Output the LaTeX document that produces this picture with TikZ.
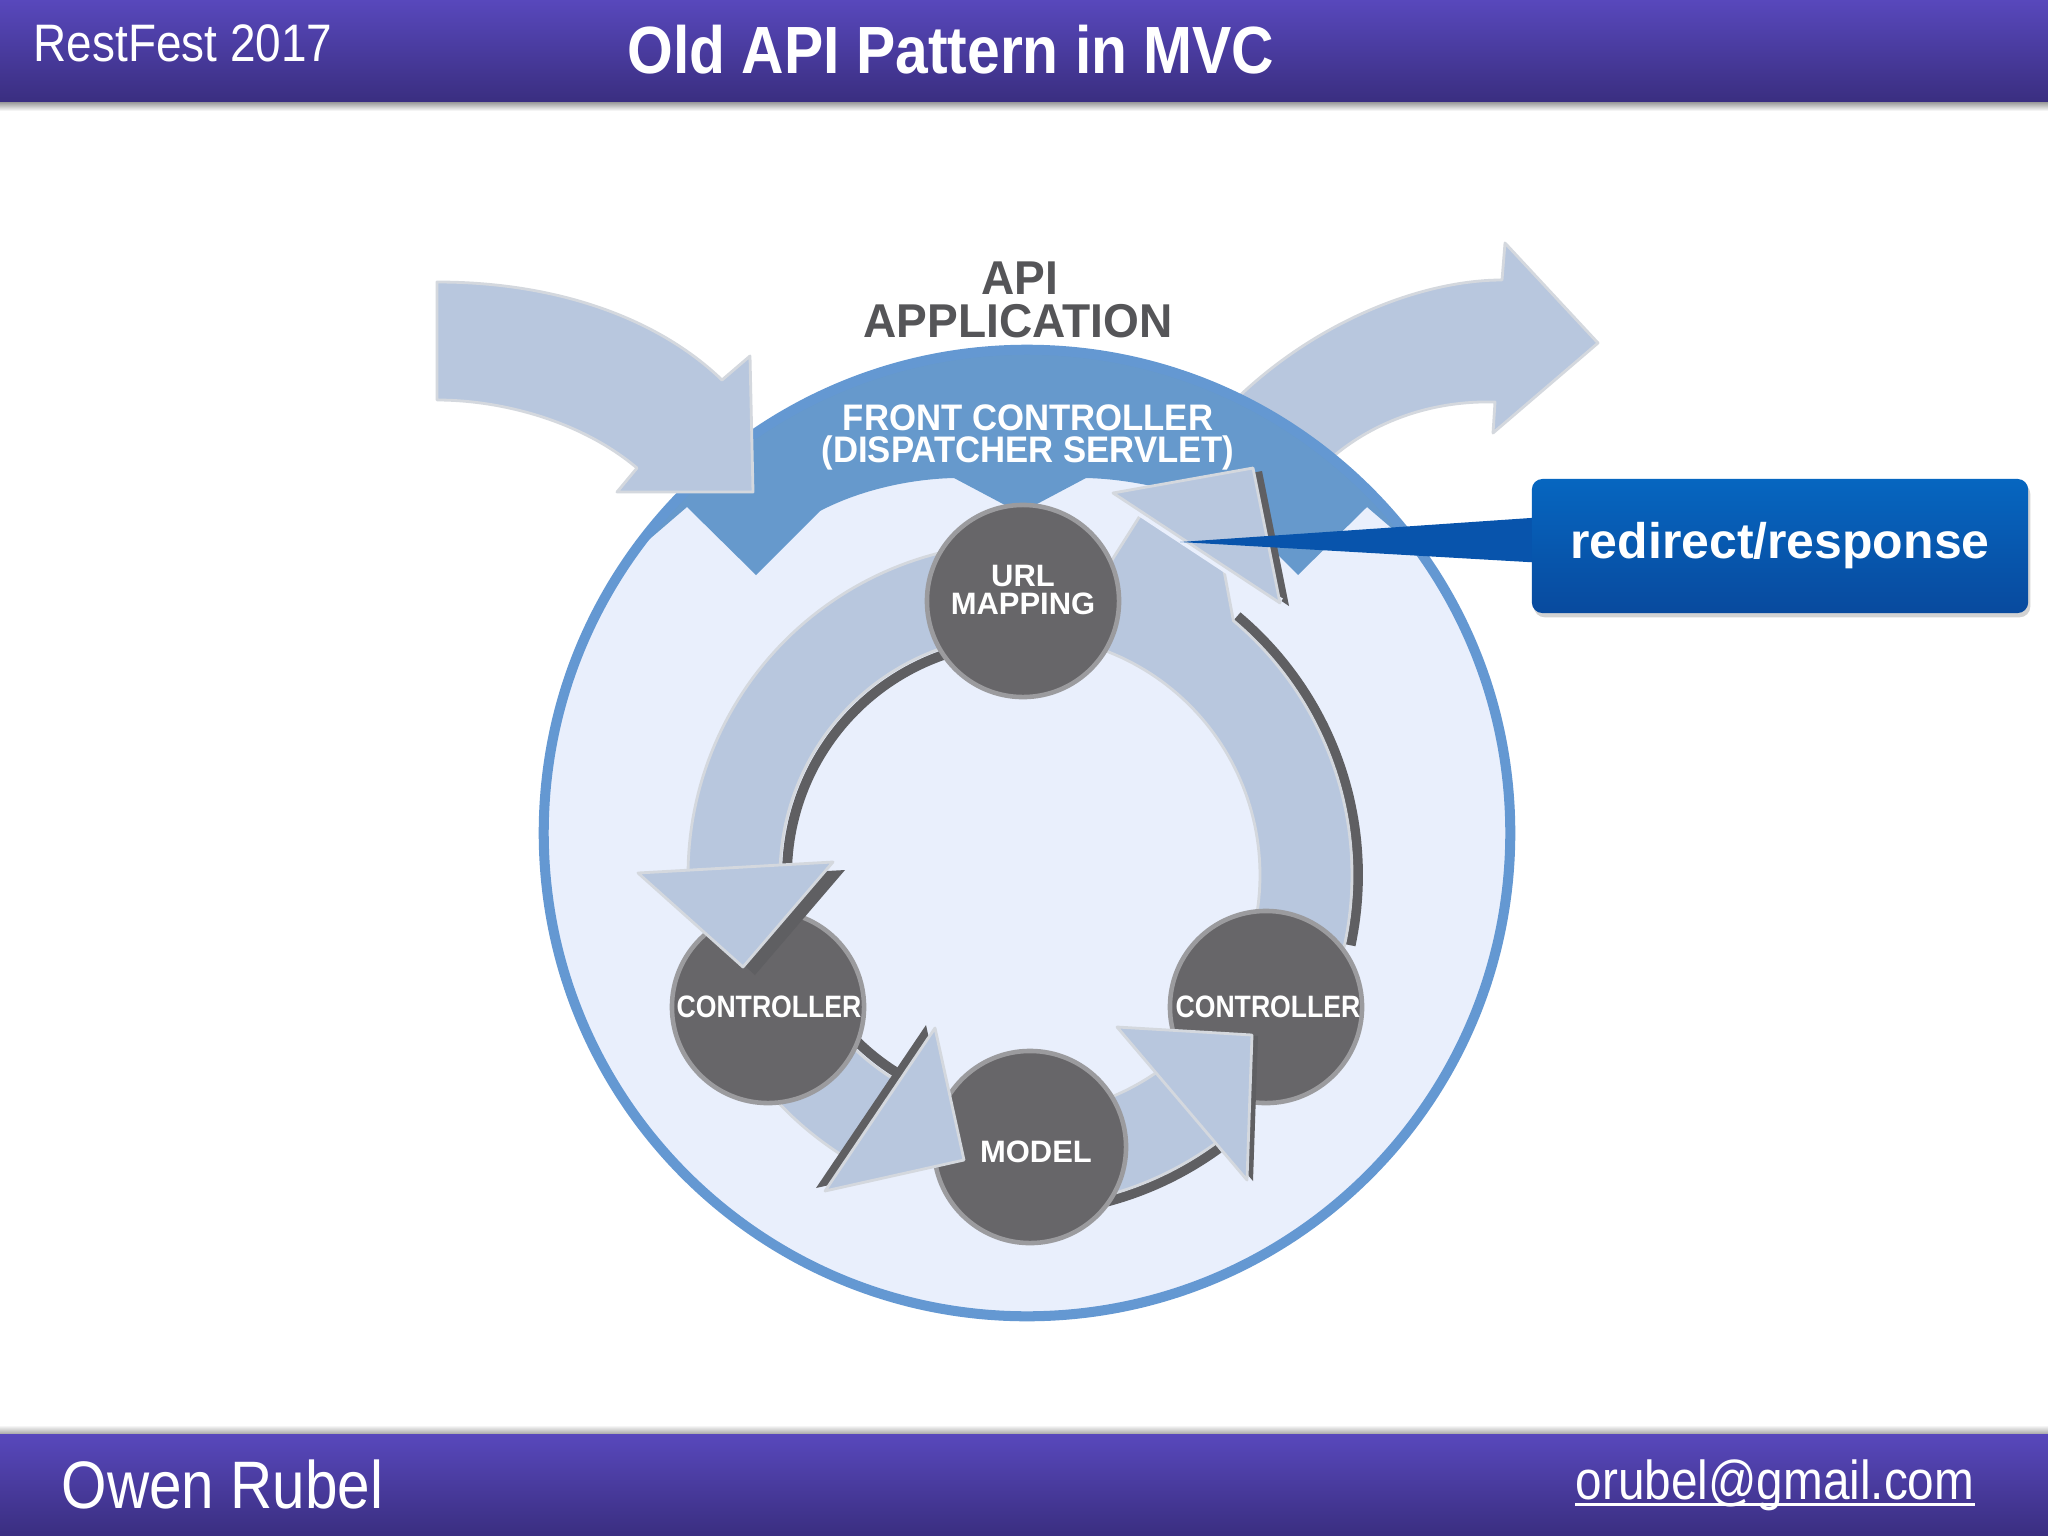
\documentclass[tikz,border=0pt]{standalone}
\usepackage{fontspec}
\setmainfont{Liberation Sans}
\newfontfamily\hdrfont[FakeStretch=0.87]{Liberation Sans}
\newfontfamily\ttlfont[FakeStretch=0.88]{Liberation Sans}
\newfontfamily\apifont[FakeStretch=0.97]{Liberation Sans}
\newfontfamily\fcfont[FakeStretch=0.94]{Liberation Sans}
\newfontfamily\ctlfont[FakeStretch=0.86]{Liberation Sans}
\usetikzlibrary{calc,shadows}
\definecolor{hdrtop}{RGB}{88,72,188}
\definecolor{hdrbot}{RGB}{58,46,128}
\definecolor{ringfill}{RGB}{233,239,252}
\definecolor{ringline}{RGB}{100,152,210}
\definecolor{bandblue}{RGB}{102,153,204}
\definecolor{lightarr}{RGB}{184,199,222}
\definecolor{arredge}{RGB}{212,216,222}
\definecolor{darkshadow}{RGB}{95,95,98}
\definecolor{nodegrey}{RGB}{103,102,105}
\definecolor{nodeedge}{RGB}{155,155,158}
\definecolor{apigrey}{RGB}{85,85,88}
\definecolor{calltop}{RGB}{6,102,192}
\definecolor{callbot}{RGB}{8,74,158}
\definecolor{callwedge}{RGB}{8,84,172}
\begin{document}
\begin{tikzpicture}[x=0.01cm, y=-0.01cm,
  bigarrow/.style={fill=lightarr, draw=arredge, line width=0.8pt, line join=round},
  cycarrow/.style={fill=lightarr, draw=arredge, line width=0.8pt, line join=round},
  darkline/.style={draw=darkshadow, line width=2.8pt},
  darkfill/.style={fill=darkshadow},
  cyc/.style={circle, fill=nodegrey, draw=nodeedge, line width=1.3pt, minimum size=1.92cm, inner sep=0pt},
  cyctext/.style={text=white, inner sep=0pt, font=\bfseries\fontsize{8.8}{9}\selectfont},
  ctltext/.style={text=white, inner sep=0pt, font=\ctlfont\bfseries\fontsize{8.8}{9}\selectfont},
  fctext/.style={text=white, inner sep=0pt, font=\fcfont\bfseries\fontsize{10.5}{12}\selectfont},
  apitext/.style={text=apigrey, inner sep=0pt, font=\apifont\bfseries\fontsize{13.5}{15}\selectfont},
  bartext/.style={text=white, inner sep=0pt},
  callbox/.style={rectangle, rounded corners=3pt, minimum width=4.96cm, minimum height=1.34cm, top color=calltop, bottom color=callbot, text=white, font=\bfseries\fontsize{14.2}{16}\selectfont, drop shadow={shadow xshift=0.6pt, shadow yshift=-1.2pt, opacity=0.35}},
]
\useasboundingbox (0,0) rectangle (2048,1536);
\fill[white] (0,0) rectangle (2048,1536);

% header and footer bars
\shade[top color=hdrtop, bottom color=hdrbot] (0,0) rectangle (2048,102);
\shade[top color=black!40, bottom color=white] (0,102) rectangle (2048,111);
\shade[top color=white, bottom color=black!35] (0,1425) rectangle (2048,1434);
\shade[top color=hdrtop, bottom color=hdrbot] (0,1434) rectangle (2048,1536);

\node[bartext, anchor=base west, font=\hdrfont\fontsize{15}{18}\selectfont] (restfest) at (33,61) {RestFest 2017};
\node[bartext, anchor=base, font=\ttlfont\bfseries\fontsize{19}{22}\selectfont] (title) at (951,73) {Old API Pattern in MVC};
\node[bartext, anchor=base west, font=\hdrfont\fontsize{19.1}{22}\selectfont] (owen) at (61,1508) {Owen Rubel};
\node[bartext, anchor=base east, font=\hdrfont\fontsize{15.6}{18}\selectfont] (mail) at (1975,1499) {orubel@gmail.com};
\draw[white, line width=0.7pt] ([yshift=-1.6pt]mail.base west) -- ([yshift=-1.6pt]mail.base east);

% outgoing arrow (behind the circle)
\path[bigarrow] (1195,445) .. controls (1280,335) and (1410,280) .. (1502,280) -- (1505,243) -- (1598,343) -- (1493,433) -- (1495,402) .. controls (1420,400) and (1350,430) .. (1305,485) -- cycle;

% application circle with front controller band
\fill[ringfill] (1027,833) circle[radius=4.83cm];
\begin{scope}
  \clip (1027,833) circle[radius=4.83cm];
  \fill[bandblue] (560,616) -- (687,507) -- (756,575) -- (820,511) .. controls (860,490) and (910,479) .. (954,478) -- (1020,513) -- (1086,478) .. controls (1130,479) and (1180,490) .. (1234,511) -- (1298,575) -- (1367,507) -- (1494,616) -- (1494,300) -- (560,300) -- cycle;
\end{scope}
\draw[ringline, line width=2.85pt] (1027,833) circle[radius=4.83cm];

% incoming arrow
\path[bigarrow] (437,282) .. controls (560,282) and (660,320) .. (722,380) -- (750,356) -- (753,492) -- (617,492) -- (637,468) .. controls (580,420) and (500,400) .. (437,400) -- cycle;

\node[apitext, anchor=base] (api1) at (1020,294) {API};
\node[apitext, anchor=base] (api2) at (1018,337) {APPLICATION};
\node[fctext, anchor=base] (fc1) at (1028,430) {FRONT CONTROLLER};
\node[fctext, anchor=base] (fc2) at (1028,462) {(DISPATCHER SERVLET)};

% cycle shadows
\draw[darkline] plot[domain=252:178,samples=50] ({1020+233*cos(\x)},{875+233*sin(\x)});
\draw[darkline] plot[domain=152:112,samples=40] ({1020+233*cos(\x)},{875+233*sin(\x)});
\draw[darkline] plot[domain=90:54,samples=40] ({1020+338*cos(\x)},{875+338*sin(\x)});
\draw[darkline] plot[domain=12:-50,samples=50] ({1020+338*cos(\x)},{875+338*sin(\x)});

% cycle shafts
\path[cycarrow] plot[domain=265:178,samples=60] ({1020+332*cos(\x)},{875+332*sin(\x)}) -- plot[domain=178:265,samples=60] ({1020+240*cos(\x)},{875+240*sin(\x)}) -- cycle;
\path[cycarrow] plot[domain=158:118,samples=40] ({1020+332*cos(\x)},{875+332*sin(\x)}) -- plot[domain=118:158,samples=40] ({1020+240*cos(\x)},{875+240*sin(\x)}) -- cycle;
\path[cycarrow] plot[domain=92:50,samples=40] ({1020+332*cos(\x)},{875+332*sin(\x)}) -- plot[domain=50:92,samples=40] ({1020+240*cos(\x)},{875+240*sin(\x)}) -- cycle;
\path[cycarrow] plot[domain=25:-50,samples=60] ({1020+332*cos(\x)},{875+332*sin(\x)}) -- (1222,560) -- (1150,500) -- (1112,560) -- plot[domain=-70:25,samples=60] ({1020+240*cos(\x)},{875+240*sin(\x)}) -- cycle;

% cycle nodes
\node[cyc] (url) at (1023,601) {};
\node[cyc] (lctl) at (768,1007) {};
\node[cyc] (model) at (1030,1147) {};
\node[cyc] (rctl) at (1266,1007) {};

% arrow heads
\path[darkfill, shift={(12,8)}] (638,873) -- (833,862) -- (743,967) -- cycle;
\path[cycarrow] (638,873) -- (833,862) -- (743,967) -- cycle;
\path[darkfill, shift={(-9,-3)}] (935,1028) -- (964,1160) -- (825,1191) -- cycle;
\path[cycarrow] (935,1028) -- (964,1160) -- (825,1191) -- cycle;
\path[darkfill, shift={(6,1)}] (1117,1027) -- (1252,1035) -- (1247,1180) -- cycle;
\path[cycarrow] (1117,1027) -- (1252,1035) -- (1247,1180) -- cycle;
\path[darkfill, shift={(9,3)}] (1113,493) -- (1253,468) -- (1280,603) -- cycle;
\draw[ringfill, line width=3pt] (1113,493) -- (1280,603);
\path[cycarrow] (1113,493) -- (1253,468) -- (1280,603) -- cycle;

% labels in the nodes
\node[cyctext, anchor=base] (urlt1) at (1023,586) {URL};
\node[cyctext, anchor=base] (urlt2) at (1023,614) {MAPPING};
\node[ctltext, anchor=base] (lctlt) at (769,1017) {CONTROLLER};
\node[ctltext, anchor=base] (rctlt) at (1268,1017) {CONTROLLER};
\node[cyctext, anchor=base] (modelt) at (1036,1162) {MODEL};

% callout
\path[fill=callwedge] (1180,542) -- (1545,517) -- (1545,563) -- cycle;
\node[callbox] (resp) at (1780,546) {redirect/response};
\end{tikzpicture}
\end{document}
